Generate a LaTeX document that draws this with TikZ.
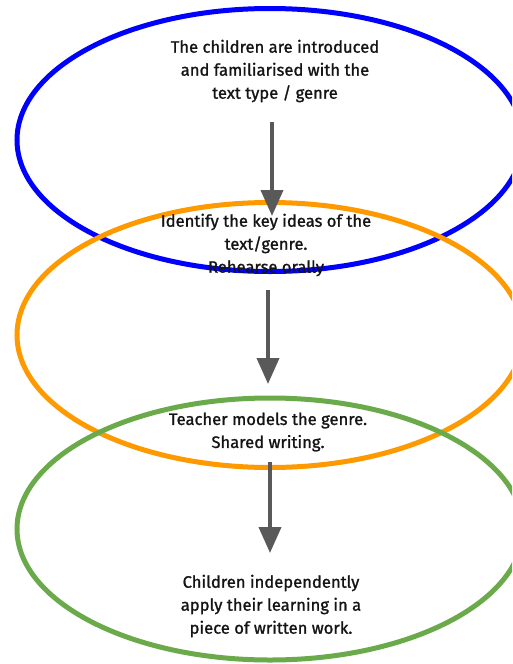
\documentclass[tikz,border=0pt]{standalone}
\usepackage{fontspec}
\setmainfont{Fira Sans}[FakeBold=1.2,BoldFont={Fira Sans}]
\usetikzlibrary{shapes.geometric,arrows.meta}
\definecolor{cblue}{HTML}{0000FF}
\definecolor{corange}{HTML}{FF9900}
\definecolor{cgreen}{HTML}{6AAA4A}
\definecolor{carrow}{HTML}{595959}
\tikzset{
  ring/.style={ellipse,draw,line width=5pt,inner sep=0pt},
  label/.style={align=center,font=\fontsize{16.6}{23}\selectfont\bfseries,text=black!92},
  flow/.style={draw=carrow,line width=3.8pt,-{Triangle[length=26pt,width=22pt]}}
}
\begin{document}
\begin{tikzpicture}[x=1pt,y=-1pt]
\useasboundingbox (0,0) rectangle (512,664);
\clip (0,0) rectangle (512,664);
\node[ring,draw=cblue,minimum width=506pt,minimum height=263pt] (e1) at (270,140) {};
\node[ring,draw=corange,minimum width=506pt,minimum height=265pt] (e2) at (270,335) {};
\node[ring,draw=cgreen,minimum width=506pt,minimum height=262pt] (e3) at (270,529) {};
\node[label] (t1) at (275,71) {The children are introduced\\and familiarised with the\\text type / genre};
\node[label] (t2) at (266,245) {Identify the key ideas of the\\text/genre.\\Rehearse orally};
\node[label] (t3) at (268,432) {Teacher models the genre.\\Shared writing.};
\node[label] (t4) at (271,606) {Children independently\\apply their learning in a\\piece of written work.};
\coordinate (a1s) at (272,122);
\coordinate (a1e) at (272,216);
\coordinate (a2s) at (268,290);
\coordinate (a2e) at (268,384);
\coordinate (a3s) at (270,462);
\coordinate (a3e) at (270,553);
\draw[flow] (a1s) -- (a1e);
\draw[flow] (a2s) -- (a2e);
\draw[flow] (a3s) -- (a3e);
\end{tikzpicture}
\end{document}
